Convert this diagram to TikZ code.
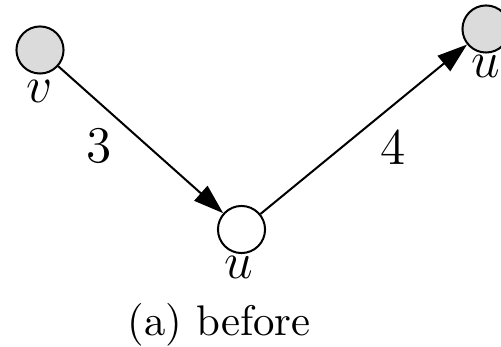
\documentclass[tikz,border=0pt]{standalone}
\usetikzlibrary{arrows.meta}
\begin{document}
\begin{tikzpicture}[x=0.2336pt,y=-0.2336pt,
  vtx/.style={circle,draw,line width=0.47pt,minimum size=11pt,inner sep=0pt},
  grayv/.style={vtx,fill=black!14},
  arr/.style={line width=0.47pt,-{Triangle[length=7pt,width=4.6pt]}},
  lbl/.style={inner sep=0pt,font=\large}]
\useasboundingbox (0,0) rectangle (501,346);
\node[grayv] (v) at (40,50) {};
\node[vtx] (u) at (241.5,229.5) {};
\node[grayv] (w) at (486,29) {};
\node[lbl] (lv) at (40,91) {$v$};
\node[lbl] (lu) at (239,267) {$u$};
\node[lbl] (lw) at (486,66) {$u$};
\node[lbl] (n3) at (99.5,146) {3};
\node[lbl] (n4) at (393,147) {4};
\node[inner sep=0pt,anchor=base] (cap) at (219,335) {(a) before};
\draw[arr] (v) -- (u);
\draw[arr] (u) -- (w);
\end{tikzpicture}
\end{document}
